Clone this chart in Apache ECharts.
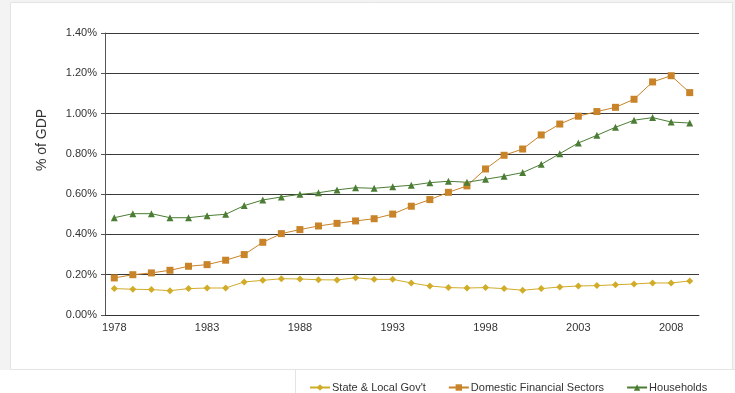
<!DOCTYPE html>
<html>
<head>
<meta charset="utf-8">
<script src="https://cdn.jsdelivr.net/npm/echarts@6/dist/echarts.min.js"></script>
<style>
  html, body { margin: 0; padding: 0; background: #fff; }
  #chart { width: 735px; height: 393px; }
</style>
</head>
<body>
<div id="chart"></div>
<script>
// years on the x axis
const years = [];
for (let y = 1978; y <= 2009; y++) years.push(String(y));

// values in % of GDP
const stateLocal = [0.131, 0.128, 0.126, 0.121, 0.131, 0.134, 0.134, 0.164, 0.172, 0.180,
  0.179, 0.175, 0.174, 0.185, 0.177, 0.177, 0.159, 0.144, 0.136, 0.134,
  0.136, 0.131, 0.123, 0.131, 0.139, 0.144, 0.146, 0.150, 0.154, 0.159,
  0.159, 0.169];
const financial = [0.184, 0.200, 0.209, 0.222, 0.242, 0.250, 0.272, 0.300, 0.361, 0.404,
  0.424, 0.442, 0.455, 0.467, 0.478, 0.501, 0.540, 0.573, 0.609, 0.641,
  0.725, 0.793, 0.824, 0.894, 0.948, 0.987, 1.010, 1.031, 1.071, 1.157,
  1.188, 1.104];
const households = [0.483, 0.503, 0.503, 0.483, 0.483, 0.493, 0.500, 0.543, 0.571, 0.586,
  0.599, 0.607, 0.621, 0.632, 0.629, 0.637, 0.644, 0.657, 0.664, 0.659,
  0.674, 0.689, 0.707, 0.748, 0.801, 0.854, 0.892, 0.932, 0.967, 0.980,
  0.958, 0.953];

const font = 'Liberation Sans, Arial, sans-serif';

let chart = echarts.init(document.getElementById('chart'));

function lineSeries(name, data, color, symbol, size) {
  return {
    name: name,
    type: 'line',
    data: data,
    symbol: symbol,
    symbolSize: size,
    lineStyle: { color: color, width: 1 },
    itemStyle: { color: color },
    emphasis: { disabled: true }
  };
}

chart.setOption({
  animation: false,
  textStyle: { fontFamily: font },
  graphic: [
    { type: 'rect', z: -10, shape: { x: 0, y: 0, width: 735, height: 370 }, style: { fill: '#f3f3f3' } },
    { type: 'rect', z: -9, shape: { x: 10.5, y: 2.5, width: 722, height: 367 }, style: { fill: '#fff', stroke: '#e4e4e4', lineWidth: 1 } },
    { type: 'rect', z: -9, shape: { x: 295.5, y: 369.5, width: 440, height: 30 }, style: { fill: '#fff', stroke: '#e4e4e4', lineWidth: 1 } },
    {
      type: 'text', x: 42, y: 140, rotation: Math.PI / 2,
      style: { text: '% of GDP', font: '14px ' + font, fill: '#333', align: 'center', verticalAlign: 'middle' }
    }
  ],
  grid: { left: 105, right: 36, top: 33, bottom: 78 },
  legend: {
    left: 304,
    top: 377,
    itemWidth: 20,
    itemHeight: 8,
    itemGap: 22,
    textStyle: { fontSize: 11, color: '#333', padding: [0, 0, 0, -3] },
    data: ['State & Local Gov\'t', 'Domestic Financial Sectors', 'Households']
  },
  xAxis: {
    type: 'category',
    data: years,
    boundaryGap: true,
    axisLine: { lineStyle: { color: '#333', width: 1 } },
    axisTick: { interval: 0, length: 4, lineStyle: { color: '#333' } },
    axisLabel: { interval: 4, fontSize: 11, color: '#333', margin: 7 },
    splitLine: { show: false }
  },
  yAxis: {
    type: 'value',
    min: 0,
    max: 1.4,
    interval: 0.2,
    axisLine: { show: true, lineStyle: { color: '#555', width: 1 } },
    axisTick: { show: true, length: 4, lineStyle: { color: '#555' } },
    axisLabel: { fontSize: 11, color: '#333', margin: 8, formatter: v => v.toFixed(2) + '%' },
    splitLine: { lineStyle: { color: '#3a3a3a', width: 1 } }
  },
  series: [
    lineSeries('State & Local Gov\'t', stateLocal, '#d1ac28', 'diamond', 7),
    lineSeries('Domestic Financial Sectors', financial, '#c98329', 'rect', 7),
    lineSeries('Households', households, '#4b7d34', 'triangle', 7)
  ]
});
</script>
</body>
</html>
